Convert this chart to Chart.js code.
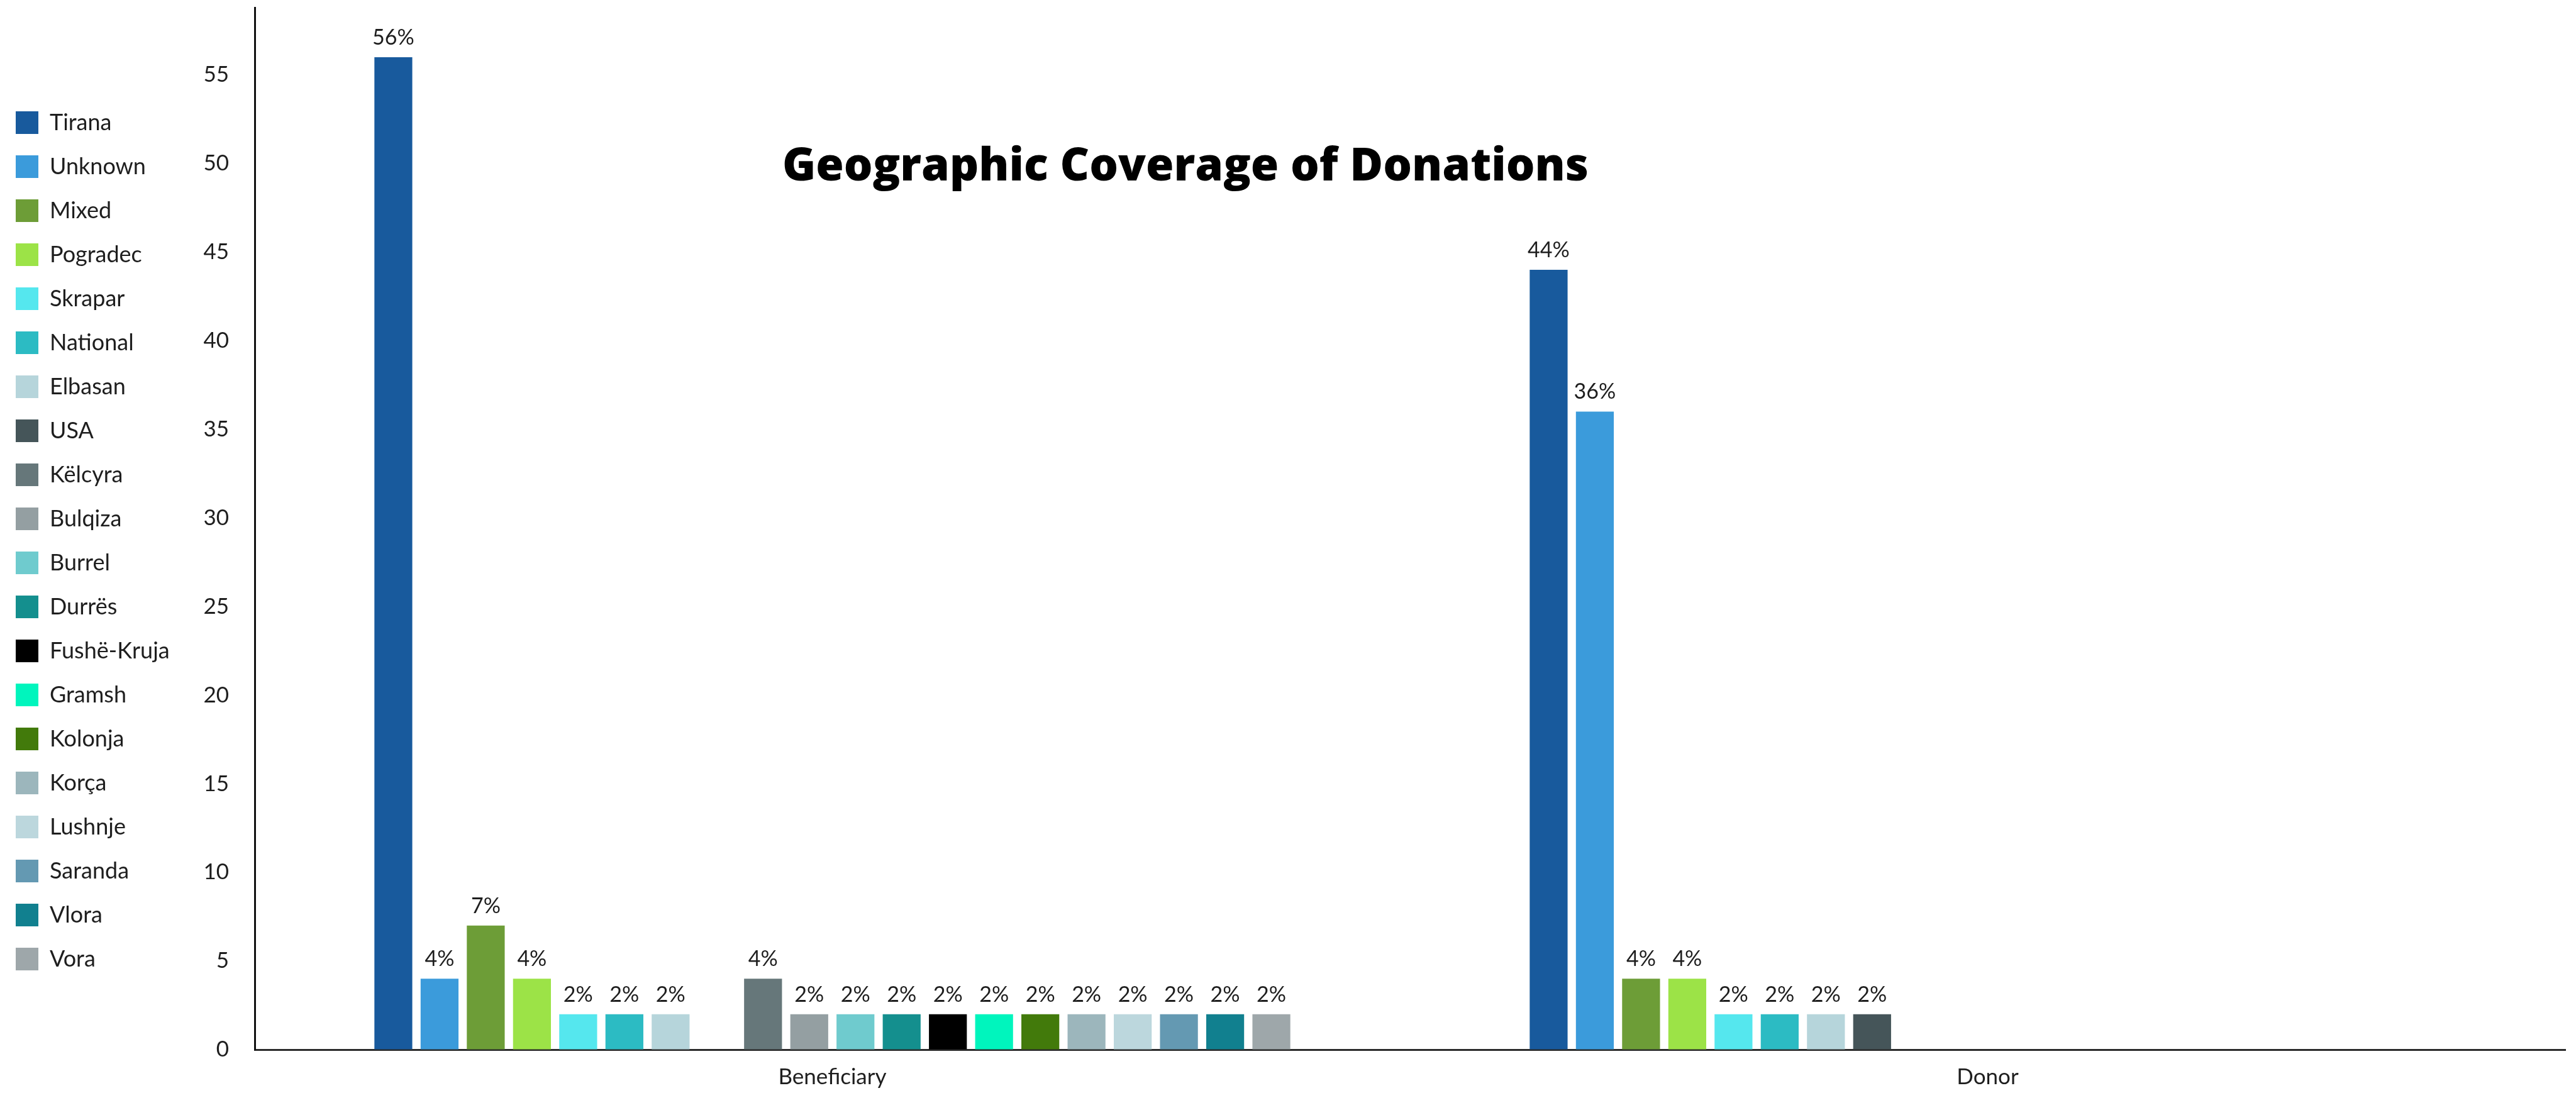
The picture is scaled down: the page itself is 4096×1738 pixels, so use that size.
<!DOCTYPE html>
<html>
<head>
<meta charset="utf-8">
<title>Geographic Coverage of Donations</title>
<script src="https://cdn.jsdelivr.net/npm/chart.js@4.4.1/dist/chart.umd.min.js"></script>
<style>
  html, body { margin: 0; padding: 0; background: #ffffff; }
  #wrap { width: 4096px; height: 1738px; }
</style>
</head>
<body>
<div id="wrap"><canvas id="chart" width="4096" height="1738"></canvas></div>
<script>
// Categories on the x axis
const categories = ['Beneficiary', 'Donor'];

// One series per location
const regions = [
  'Tirana', 'Unknown', 'Mixed', 'Pogradec', 'Skrapar', 'National', 'Elbasan',
  'USA', 'Këlcyra', 'Bulqiza', 'Burrel', 'Durrës', 'Fushë-Kruja', 'Gramsh',
  'Kolonja', 'Korça', 'Lushnje', 'Saranda', 'Vlora', 'Vora'
];

// Share of donations (%) per location, for each category
const beneficiaryShare = [56, 4, 7, 4, 2, 2, 2, null, 4, 2, 2, 2, 2, 2, 2, 2, 2, 2, 2, 2];
const donorShare       = [44, 36, 4, 4, 2, 2, 2, 2, null, null, null, null, null, null, null, null, null, null, null, null];

// Series colours, in the same order as the locations
const regionColors = [
  '#185a9d', '#3b9bdb', '#6d9d37', '#9ce347', '#55e7ee', '#2cbbc3', '#b6d5db',
  '#455559', '#66777a', '#949fa2', '#6fcbce', '#148f8e', '#000000', '#00f5bd',
  '#427a0b', '#9cb6bc', '#bcd7dd', '#6499b2', '#11808f', '#9ea7aa'
];

// Value axis
const yAxisMax = 58.8;
const yAxisStep = 5;

const chartTitle = 'Geographic Coverage of Donations';

// Layout constants (pixels)
const PAD_LEFT = -9;
const AREA_LEFT = 405;
const LEGEND_SHIFT = 13;
const X_AXIS_HEIGHT = 65;

function build() {
  Chart.defaults.font.family = 'Lato, "Noto Sans", sans-serif';
  Chart.defaults.color = '#1e1e1e';

  const datasets = regions.map((name, i) => ({
    label: name,
    data: [beneficiaryShare[i], donorShare[i]],
    backgroundColor: regionColors[i],
    borderWidth: 0,
    categoryPercentage: 0.8,
    barPercentage: 0.82
  }));

  // Percentage labels above each bar
  const valueLabels = {
    id: 'valueLabels',
    afterDatasetsDraw(chart) {
      const ctx = chart.ctx;
      ctx.save();
      ctx.font = '34px Lato, "Noto Sans", sans-serif';
      ctx.fillStyle = '#1e1e1e';
      ctx.textAlign = 'center';
      ctx.textBaseline = 'middle';
      chart.data.datasets.forEach((ds, di) => {
        const meta = chart.getDatasetMeta(di);
        if (meta.hidden) return;
        meta.data.forEach((bar, idx) => {
          const v = ds.data[idx];
          if (v === null || v === undefined) return;
          ctx.fillText(v + '%', bar.x, bar.y - 31);
        });
      });
      ctx.restore();
    }
  };

  // Chart heading drawn inside the plot
  const heading = {
    id: 'heading',
    afterDraw(chart) {
      const ctx = chart.ctx;
      ctx.save();
      ctx.font = '800 72px "Open Sans", Lato, sans-serif';
      ctx.fillStyle = '#000000';
      ctx.textAlign = 'center';
      ctx.textBaseline = 'alphabetic';
      ctx.fillText(chartTitle, 1885, 287);
      ctx.restore();
    }
  };

  // Nudge the side legend up a little after layout
  const legendShift = {
    id: 'legendShift',
    afterLayout(chart) {
      const lg = chart.legend;
      if (lg) { lg.top -= LEGEND_SHIFT; lg.bottom -= LEGEND_SHIFT; }
    }
  };

  new Chart(document.getElementById('chart'), {
    type: 'bar',
    data: { labels: categories, datasets },
    plugins: [valueLabels, heading, legendShift],
    options: {
      responsive: false,
      animation: false,
      devicePixelRatio: 1,
      layout: { padding: { left: PAD_LEFT, right: 17, top: 12, bottom: 4 } },
      plugins: {
        title: { display: false },
        tooltip: { enabled: false },
        legend: {
          position: 'left',
          align: 'center',
          labels: {
            boxWidth: 36,
            boxHeight: 36,
            padding: 34,
            color: '#1e1e1e',
            font: { size: 36 }
          }
        }
      },
      scales: {
        x: {
          grid: { display: false, drawTicks: false },
          border: { display: true, color: '#2a2a2a', width: 3 },
          ticks: { padding: 23, color: '#1e1e1e', font: { size: 35 } },
          afterFit(scale) { scale.height = X_AXIS_HEIGHT; }
        },
        y: {
          min: 0,
          max: yAxisMax,
          grid: {
            display: true,
            drawOnChartArea: false,
            drawTicks: true,
            tickLength: 38,
            color: 'rgba(0,0,0,0)'
          },
          border: { display: true, color: '#111111', width: 3 },
          ticks: {
            stepSize: yAxisStep,
            padding: 3,
            color: '#1e1e1e',
            font: { size: 35, lineHeight: 0.5 }
          },
          afterBuildTicks(scale) {
            scale.ticks = scale.ticks.filter(t => Math.abs(t.value / yAxisStep - Math.round(t.value / yAxisStep)) < 1e-9);
          },
          afterFit(scale) {
            const lw = scale.chart.legend ? scale.chart.legend.width : 0;
            scale.width = AREA_LEFT - (PAD_LEFT + lw);
          }
        }
      }
    }
  });
}

if (document.fonts && document.fonts.load) {
  Promise.all([
    document.fonts.load('36px Lato'),
    document.fonts.load('800 72px "Open Sans"')
  ]).then(build, build);
} else {
  build();
}
</script>
</body>
</html>
